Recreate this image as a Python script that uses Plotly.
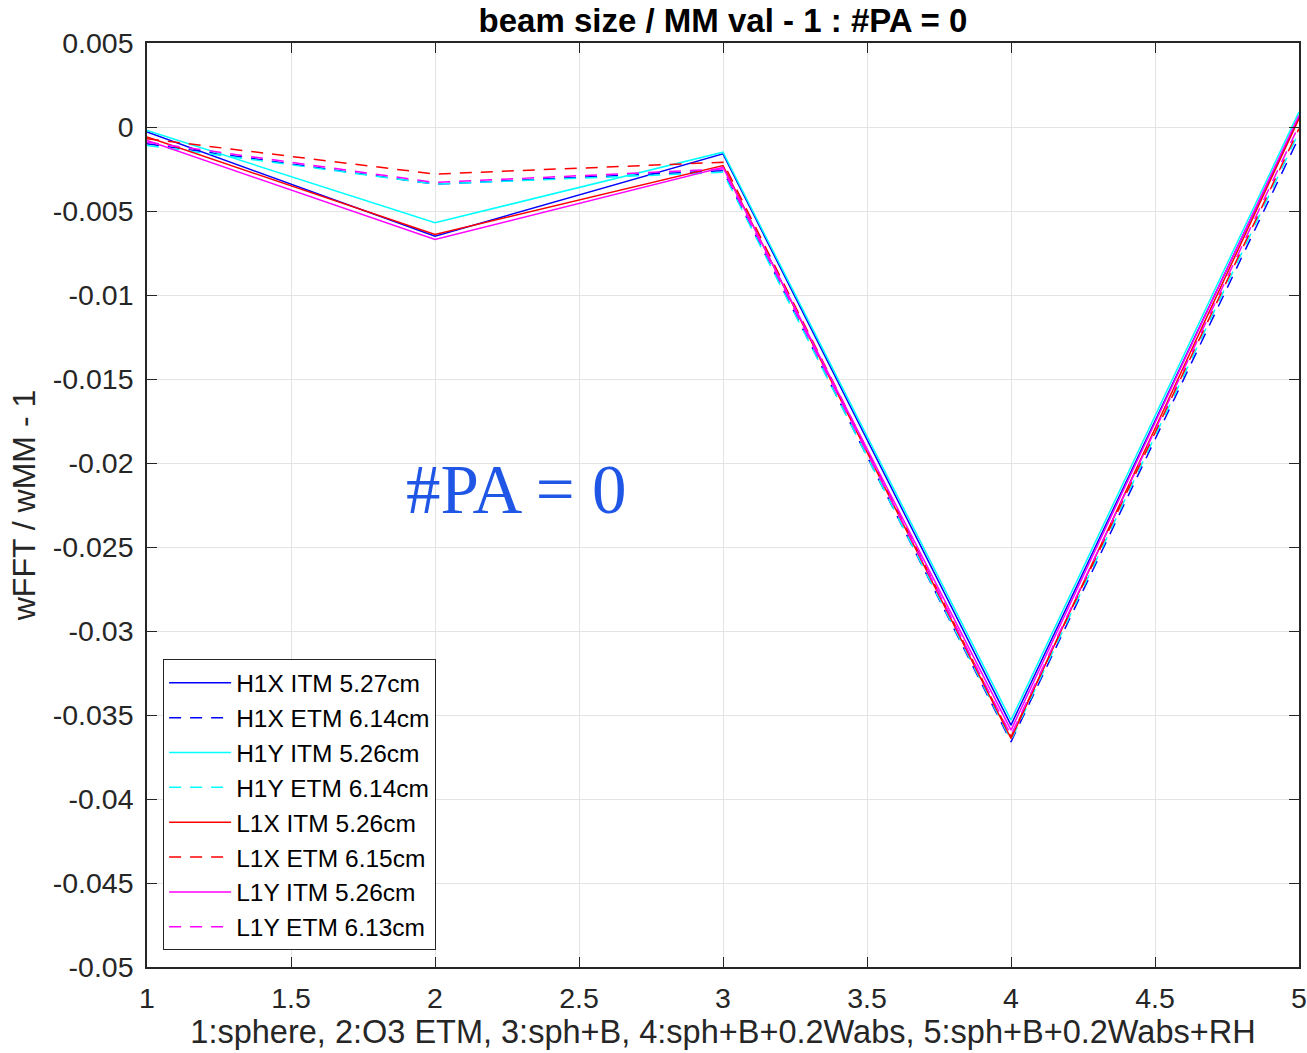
import plotly.graph_objects as go

x_vals = [1, 2, 3, 4, 5]
x_ticks = [1, 1.5, 2, 2.5, 3, 3.5, 4, 4.5, 5]
x_ticktext = ["1", "1.5", "2", "2.5", "3", "3.5", "4", "4.5", "5"]
y_ticks = [0.005, 0, -0.005, -0.01, -0.015, -0.02, -0.025, -0.03, -0.035, -0.04, -0.045, -0.05]
y_ticktext = ["0.005", "0", "-0.005", "-0.01", "-0.015", "-0.02", "-0.025", "-0.03",
              "-0.035", "-0.04", "-0.045", "-0.05"]
names = ["H1X ITM 5.27cm", "H1X ETM 6.14cm", "H1Y ITM 5.26cm", "H1Y ETM 6.14cm",
         "L1X ITM 5.26cm", "L1X ETM 6.15cm", "L1Y ITM 5.26cm", "L1Y ETM 6.13cm"]
h1x_itm = [-0.0003, -0.0065, -0.0016, -0.0356, 0.0006]
h1x_etm = [-0.0010, -0.0034, -0.0026, -0.0366, -0.0006]
h1y_itm = [-0.0002, -0.0057, -0.0015, -0.0353, 0.0009]
h1y_etm = [-0.0011, -0.0034, -0.0027, -0.0365, -0.0003]
l1x_itm = [-0.0006, -0.0064, -0.0023, -0.0364, 0.0005]
l1x_etm = [-0.0007, -0.0028, -0.0021, -0.0363, -0.0001]
l1y_itm = [-0.0008, -0.0067, -0.0024, -0.0359, 0.0007]
l1y_etm = [-0.0009, -0.0033, -0.0025, -0.0362, 0.0001]
series = [h1x_itm, h1x_etm, h1y_itm, h1y_etm, l1x_itm, l1x_etm, l1y_itm, l1y_etm]
colors = ["#0000ff", "#0000ff", "#00ffff", "#00ffff", "#ff0000", "#ff0000", "#ff00ff", "#ff00ff"]
dashes = ["solid", "12px,9px", "solid", "12px,9px", "solid", "12px,9px", "solid", "12px,9px"]

fig = go.Figure()
for n, s, c, d in zip(names, series, colors, dashes):
    fig.add_trace(go.Scatter(x=x_vals, y=s, mode="lines", name=n,
                             line=dict(color=c, width=1.5, dash=d)))

font = "Helvetica, Liberation Sans, Arial, sans-serif"
axis_common = dict(showgrid=True, gridcolor="#e3e3e3", gridwidth=1, zeroline=False,
                   showline=True, linecolor="#262626", linewidth=1.5, mirror="ticks",
                   ticks="inside", ticklen=10, tickcolor="#262626", automargin=False,
                   tickfont=dict(size=28.5, color="#262626", family=font))
fig.update_xaxes(range=[1, 5], tickvals=x_ticks, ticktext=x_ticktext, ticklabelstandoff=5,
                 **axis_common,
                 title=dict(text="1:sphere, 2:O3 ETM, 3:sph+B, 4:sph+B+0.2Wabs, 5:sph+B+0.2Wabs+RH",
                            font=dict(size=32.5, color="#262626", family=font), standoff=4))
fig.update_yaxes(range=[-0.05, 0.005], tickvals=y_ticks, ticktext=y_ticktext, ticklabelstandoff=6,
                 **axis_common,
                 title=dict(text="wFFT / wMM - 1", font=dict(size=32, color="#262626", family=font),
                            standoff=8))

fig.add_annotation(x=2.28, y=-0.0216, xref="x", yref="y", text="#PA = 0", showarrow=False,
                   font=dict(family="Liberation Serif, Times New Roman, serif", size=69, color="#1f56e6"))

fig.update_layout(
    width=1307, height=1053,
    margin=dict(l=147, r=8, t=43, b=86),
    plot_bgcolor="white", paper_bgcolor="white",
    title=dict(text="<b>beam size / MM val - 1 : #PA = 0</b>", x=0.5, xref="paper", xanchor="center",
               y=1 - 20 / 1053, yref="container", yanchor="middle",
               font=dict(size=33, color="black", family=font)),
    legend=dict(x=0.014, y=0.018, xanchor="left", yanchor="bottom", itemwidth=62,
                bgcolor="white", bordercolor="#262626", borderwidth=1,
                font=dict(size=24.5, color="black", family=font)),
    showlegend=True,
)

fig.write_html("out.html")
